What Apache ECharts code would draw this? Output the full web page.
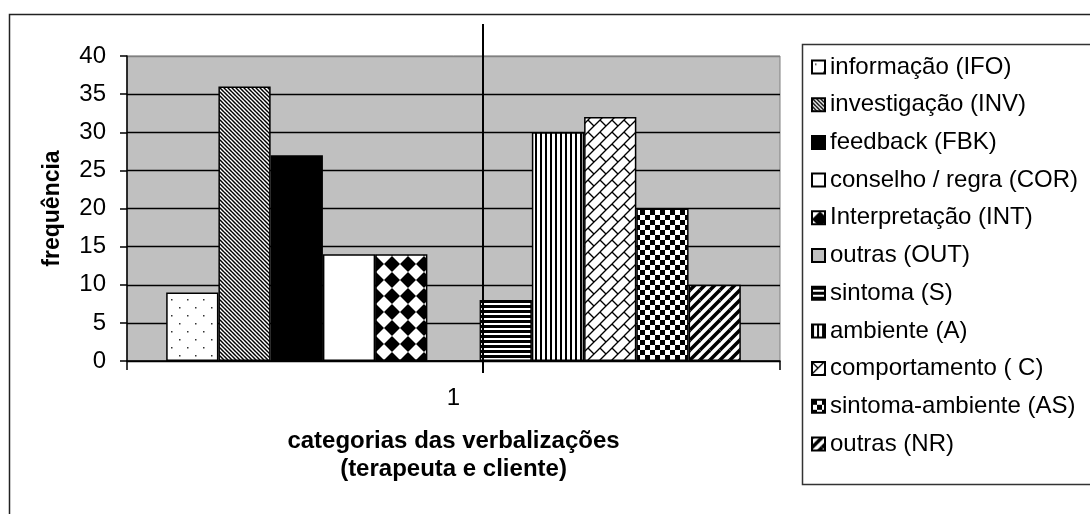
<!DOCTYPE html>
<html>
<head>
<meta charset="utf-8">
<script src="https://cdn.jsdelivr.net/npm/echarts@6/dist/echarts.min.js"></script>
<style>
  html, body { margin: 0; padding: 0; background: #fff; }
  #chart { width: 1090px; height: 514px; }
</style>
</head>
<body>
<div id="chart"></div>
<script>
// Frequency of verbalization categories (therapist and client)
const categories = ['1'];
const seriesNames = [
  'informação (IFO)',
  'investigação (INV)',
  'feedback (FBK)',
  'conselho / regra (COR)',
  'Interpretação (INT)',
  'outras (OUT)',
  'sintoma (S)',
  'ambiente (A)',
  'comportamento ( C)',
  'sintoma-ambiente (AS)',
  'outras (NR)'
];
const seriesValues = [9, 36, 27, 14, 14, 0, 8, 30, 32, 20, 10];
const yMin = 0, yMax = 40, yStep = 5;

const FONT = "'Liberation Sans', Arial, sans-serif";

// --- monochrome fill patterns (Excel-style hatches) ---
function tile(w, h, draw) {
  const c = document.createElement('canvas');
  c.width = w; c.height = h;
  const g = c.getContext('2d');
  g.fillStyle = '#fff';
  g.fillRect(0, 0, w, h);
  g.fillStyle = '#000';
  g.strokeStyle = '#000';
  draw(g, w, h);
  return { image: c, repeat: 'repeat' };
}
// draw a shape in all neighbouring copies so the tile wraps seamlessly
function wrap(g, w, h, fn) {
  for (const dx of [-w, 0, w]) {
    for (const dy of [-h, 0, h]) {
      g.save(); g.translate(dx, dy); fn(g); g.restore();
    }
  }
}

const fills = [
  // dots
  tile(16, 16, g => {
    g.fillStyle = '#333';
    g.fillRect(3, 3, 1.5, 1.5);
    g.fillRect(11, 11, 1.5, 1.5);
  }),
  // dense backward diagonal
  tile(4, 4, (g, w, h) => {
    g.lineWidth = 1.5;
    wrap(g, w, h, c => { c.beginPath(); c.moveTo(0, 0); c.lineTo(w, h); c.stroke(); });
  }),
  '#000',
  '#fff',
  // diamonds
  tile(16, 16, g => {
    g.beginPath();
    g.moveTo(8, 0); g.lineTo(16, 8); g.lineTo(8, 16); g.lineTo(0, 8); g.closePath();
    g.fill();
  }),
  '#c0c0c0',
  // horizontal stripes
  tile(4, 5, g => { g.fillRect(0, 0, 4, 3); }),
  // vertical stripes
  tile(5, 4, g => { g.fillRect(0, 0, 2, 4); }),
  // diagonal brick
  tile(12, 12, (g, w, h) => {
    g.lineWidth = 1.3;
    wrap(g, w, h, c => {
      c.beginPath(); c.moveTo(0, h); c.lineTo(w, 0); c.stroke();
      c.beginPath(); c.moveTo(0, 0); c.lineTo(w / 2, h / 2); c.stroke();
    });
  }),
  // checkerboard
  tile(10, 10, g => { g.fillRect(0, 0, 5, 5); g.fillRect(5, 5, 5, 5); }),
  // wide forward diagonal
  tile(10, 10, (g, w, h) => {
    g.lineWidth = 3.5;
    wrap(g, w, h, c => { c.beginPath(); c.moveTo(0, h); c.lineTo(w, 0); c.stroke(); });
  })
];

const series = seriesNames.map((name, i) => ({
  name: name,
  type: 'bar',
  data: [seriesValues[i]],
  barGap: '0%',
  barCategoryGap: '12%',
  itemStyle: { color: fills[i], borderColor: '#000', borderWidth: 1.5 },
  emphasis: { disabled: true },
  animation: false
}));

const chart = echarts.init(document.getElementById('chart'), null, { renderer: 'canvas' });

const splitColors = [];
for (let v = yMin; v <= yMax; v += yStep) splitColors.push(v === yMax ? '#808080' : '#000');

chart.setOption({
  backgroundColor: '#fff',
  animation: false,
  textStyle: { fontFamily: FONT },
  graphic: [
    { type: 'rect', z: 0, silent: true,
      shape: { x: 9.5, y: 14.5, width: 1200, height: 600 },
      style: { fill: 'none', stroke: '#222', lineWidth: 1.5 } },
    { type: 'rect', z: 0, silent: true,
      shape: { x: 802.5, y: 44.5, width: 400, height: 440 },
      style: { fill: '#fff', stroke: '#333', lineWidth: 1.5 } },
    { type: 'line', z: 100, silent: true,
      shape: { x1: 483, y1: 24, x2: 483, y2: 373 },
      style: { stroke: '#000', lineWidth: 2 } }
  ],
  grid: {
    left: 127, right: 310, top: 56, bottom: 153,
    show: true, backgroundColor: '#c0c0c0', borderColor: '#808080', borderWidth: 1
  },
  legend: {
    data: seriesNames,
    orient: 'vertical',
    left: 811, top: 55,
    padding: 0,
    itemWidth: 13, itemHeight: 13, itemGap: 13.7,
    icon: 'rect',
    selectedMode: false,
    textStyle: { fontFamily: FONT, fontSize: 24, color: '#000', lineHeight: 24 }
  },
  xAxis: {
    type: 'category',
    data: categories,
    name: 'categorias das verbalizações\n(terapeuta e cliente)',
    nameLocation: 'middle',
    nameGap: 66,
    nameTextStyle: { fontFamily: FONT, fontSize: 24, fontWeight: 'bold', color: '#000', lineHeight: 28 },
    axisLine: { lineStyle: { color: '#000', width: 1.5 } },
    axisTick: { show: true, length: 9, lineStyle: { color: '#000', width: 1.5 } },
    axisLabel: { fontFamily: FONT, fontSize: 24, color: '#000', margin: 25 }
  },
  yAxis: {
    type: 'value',
    min: yMin, max: yMax, interval: yStep,
    name: 'frequência',
    nameLocation: 'middle',
    nameGap: 63,
    nameTextStyle: { fontFamily: FONT, fontSize: 23, fontWeight: 'bold', color: '#000' },
    axisLine: { show: true, lineStyle: { color: '#000', width: 1.5 } },
    axisTick: { show: true, length: 7, lineStyle: { color: '#000', width: 1.5 } },
    axisLabel: { fontFamily: FONT, fontSize: 24, color: '#000', margin: 21 },
    splitLine: { show: true, lineStyle: { color: splitColors, width: 1.3 } }
  },
  series: series
});
</script>
</body>
</html>
